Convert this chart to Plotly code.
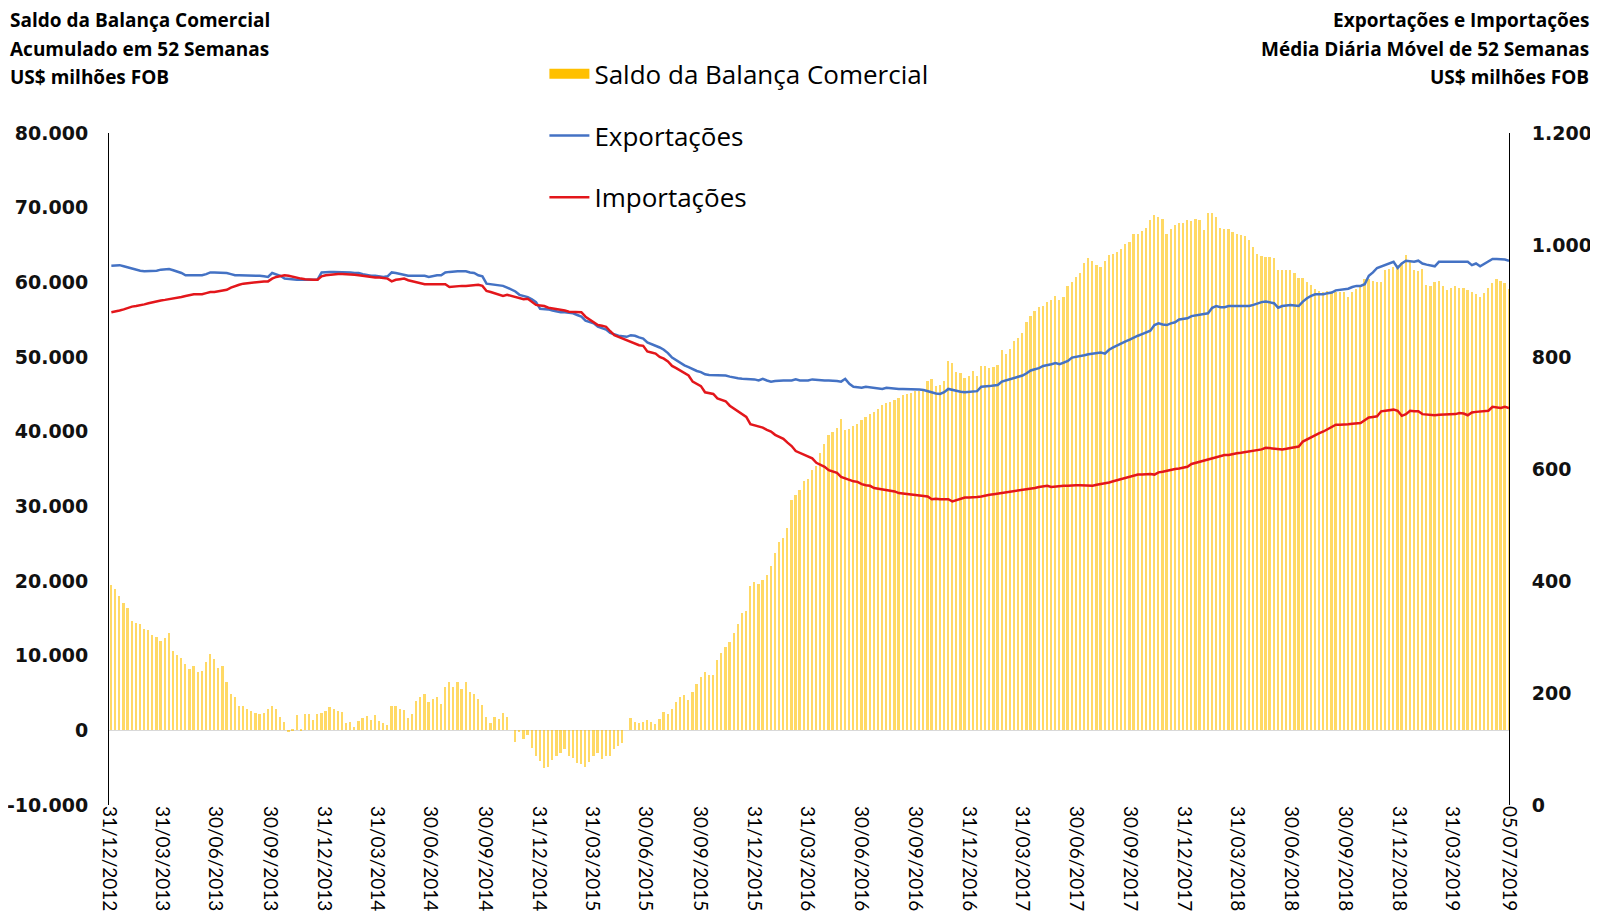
import pandas as pd
import plotly.graph_objects as go

# ---------------- data (weekly, last week ending 05/07/2019) ----------------
last_week = "2019-07-05"
n_weeks = 340

saldo = [
    19400, 18950, 17980, 17000, 16400, 14600, 14400, 14300, 13600, 13400,
    12800, 12500, 11900, 12400, 13100, 10600, 10100, 9700, 8900, 8200,
    8600, 7800, 7900, 9100, 10200, 9600, 8300, 8600, 6500, 4900,
    4500, 3300, 3200, 2800, 2600, 2300, 2200, 2300, 2800, 3200,
    2800, 1800, 1100, -100, 150, 2100, 150, 2200, 2200, 1400,
    2200, 2300, 2600, 3100, 2800, 2600, 2400, 1000, 1100, 400,
    1300, 1700, 1900, 1400, 2100, 1300, 1000, 700, 3300, 3200,
    2800, 2700, 1600, 2200, 3900, 4400, 4800, 3800, 4200, 4500,
    3500, 5800, 6500, 5800, 6500, 5600, 6500, 5200, 4900, 4200,
    3400, 1800, 1000, 1800, 1500, 2300, 1800, 0, -1500, -100,
    -1200, -600, -2300, -3500, -4100, -5000, -4900, -4000, -3500, -3000,
    -2500, -3400, -3700, -4400, -4500, -4900, -4200, -3500, -3000, -3900,
    -3500, -3400, -2500, -2100, -1700, 0, 1600, 1100, 1000, 1100,
    1400, 1100, 900, 1500, 2500, 2200, 2900, 3800, 4500, 4700,
    4000, 5200, 6200, 7200, 7800, 7400, 7400, 9400, 10400, 11200,
    11800, 13000, 14200, 15700, 16000, 19300, 19800, 19600, 20200, 20800,
    22000, 23700, 25200, 25700, 27100, 30800, 31500, 32200, 33400, 33700,
    34900, 35400, 37100, 38300, 39500, 40000, 40500, 41700, 40200, 40300,
    40700, 41000, 41500, 41900, 42400, 42700, 43100, 43600, 43900, 44000,
    44200, 44500, 44900, 45100, 45200, 45400, 45500, 45600, 46800, 47100,
    46100, 46300, 46800, 49400, 49200, 48000, 47900, 47200, 47500, 48100,
    47500, 48800, 48800, 48500, 48700, 48900, 50900, 50400, 51100, 52100,
    52600, 53200, 54700, 55500, 56200, 56700, 56800, 57400, 57700, 58200,
    57700, 58000, 59500, 60100, 60700, 61200, 62600, 63300, 62800, 62300,
    62100, 62800, 63600, 63800, 64000, 64500, 65100, 65400, 66500, 66500,
    66900, 67300, 68300, 69000, 68800, 68500, 66500, 67200, 67700, 67900,
    68000, 68300, 68200, 68500, 68300, 67000, 69300, 69300, 68800, 67300,
    67200, 67100, 66800, 66500, 66400, 66200, 65700, 64700, 63800, 63500,
    63400, 63400, 63300, 61600, 61700, 61700, 61700, 61300, 60600, 60600,
    60000, 59700, 59100, 58800, 58700, 58800, 58600, 58700, 58700, 58700,
    58100, 58700, 59100, 59500, 60400, 60500, 60200, 60100, 60000, 61700,
    61800, 62000, 62300, 62600, 63600, 62900, 61700, 61500, 61800, 59700,
    59500, 60000, 60200, 59500, 59000, 59200, 59500, 59200, 59200, 59000,
    58700, 58400, 58100, 58600, 59200, 59900, 60500, 60200, 59900, 59100,
]

exportacoes = [
    963, 964, 964, 962, 960, 957, 955, 954, 953, 953,
    953, 954, 956, 957, 957, 955, 953, 950, 946, 946,
    946, 946, 946, 948, 951, 951, 951, 950, 950, 948,
    946, 946, 946, 946, 946, 945, 945, 944, 943, 950,
    947, 945, 940, 939, 938, 938, 938, 938, 938, 938,
    938, 951, 952, 952, 952, 952, 952, 951, 951, 950,
    950, 948, 946, 945, 945, 944, 943, 944, 951, 950,
    948, 947, 945, 945, 945, 946, 945, 943, 945, 946,
    946, 951, 952, 953, 953, 953, 953, 951, 950, 946,
    944, 931, 930, 929, 928, 927, 924, 920, 917, 911,
    909, 907, 903, 898, 886, 886, 885, 883, 881, 880,
    880, 879, 878, 875, 872, 865, 862, 860, 854, 851,
    849, 843, 840, 838, 837, 836, 839, 838, 835, 833,
    826, 823, 821, 817, 813, 807, 799, 794, 789, 785,
    782, 778, 775, 773, 769, 768, 768, 767, 767, 767,
    765, 763, 762, 761, 761, 760, 760, 758, 761, 758,
    756, 757, 758, 758, 758, 758, 760, 758, 758, 758,
    760, 759, 758, 758, 758, 758, 757, 756, 761, 752,
    747, 746, 745, 747, 746, 745, 744, 743, 745, 744,
    743, 743, 743, 743, 743, 742, 742, 741, 739, 736,
    735, 734, 737, 743, 741, 739, 738, 737, 738, 738,
    739, 747, 747, 748, 749, 750, 756, 758, 761, 763,
    765, 767, 771, 776, 778, 780, 784, 785, 787, 789,
    787, 790, 793, 799, 800, 802, 803, 805, 806, 807,
    808, 806, 813, 817, 821, 825, 828, 831, 835, 838,
    841, 844, 847, 857, 860, 858, 857, 860, 862, 867,
    868, 869, 873, 874, 876, 877, 878, 888, 891, 889,
    889, 891, 891, 891, 891, 891, 891, 893, 896, 898,
    899, 898, 896, 888, 891, 892, 893, 892, 891, 899,
    905, 909, 912, 912, 912, 914, 915, 919, 920, 921,
    922, 925, 927, 927, 930, 945, 951, 959, 962, 964,
    967, 970, 959, 967, 972, 971, 970, 972, 967, 965,
    964, 962, 970, 970, 970, 969, 969, 970, 970, 970,
    964, 967, 962, 966, 970, 975, 975, 975, 974, 972,
]

importacoes = [
    880, 881, 883, 885, 888, 890, 891, 892, 894, 896,
    898, 900, 901, 902, 903, 904, 905, 907, 909, 911,
    912, 912, 912, 914, 916, 916, 917, 918, 920, 924,
    927, 929, 931, 932, 933, 934, 935, 935, 935, 940,
    943, 945, 946, 945, 943, 942, 940, 939, 938, 938,
    938, 944, 946, 947, 948, 948, 948, 948, 948, 947,
    946, 945, 943, 942, 942, 942, 941, 940, 935, 938,
    939, 940, 937, 935, 933, 931, 930, 930, 930, 930,
    930, 930, 925, 926, 927, 927, 927, 928, 928, 929,
    927, 918, 916, 914, 912, 909, 911, 909, 907, 905,
    903, 904, 898, 893, 892, 891, 888, 887, 885, 884,
    883, 881, 881, 880, 880, 872, 867, 862, 857, 856,
    854, 846, 839, 836, 833, 829, 826, 823, 821, 820,
    810, 808, 806, 800, 797, 792, 784, 780, 776, 771,
    767, 756, 752, 748, 737, 736, 734, 726, 724, 721,
    713, 708, 703, 698, 693, 680, 678, 676, 674, 670,
    667, 661, 657, 654, 647, 641, 632, 629, 626, 622,
    619, 611, 607, 604, 598, 595, 593, 586, 583, 580,
    578, 577, 573, 571, 570, 566, 565, 564, 563, 562,
    560, 557, 556, 555, 555, 554, 553, 552, 551, 546,
    547, 546, 546, 546, 542, 544, 546, 549, 549, 549,
    550, 551, 553, 554, 555, 556, 557, 559, 559, 560,
    562, 563, 564, 565, 566, 568, 569, 570, 568, 569,
    570, 570, 570, 571, 571, 571, 571, 571, 570, 572,
    573, 575, 576, 578, 580, 581, 584, 586, 588, 590,
    590, 591, 591, 590, 594, 595, 597, 599, 600, 601,
    603, 604, 609, 611, 612, 614, 616, 618, 620, 623,
    625, 625, 627, 628, 629, 630, 631, 632, 633, 635,
    638, 637, 636, 635, 635, 636, 637, 638, 640, 649,
    653, 657, 661, 664, 667, 671, 675, 679, 679, 679,
    680, 681, 681, 682, 687, 692, 693, 694, 703, 704,
    705, 706, 704, 695, 698, 704, 703, 703, 698, 697,
    696, 696, 697, 697, 698, 698, 698, 700, 699, 696,
    701, 702, 703, 703, 704, 711, 710, 709, 711, 709,
]

tick_labels = [
    "31/12/2012", "31/03/2013", "30/06/2013", "30/09/2013",
    "31/12/2013", "31/03/2014", "30/06/2014", "30/09/2014",
    "31/12/2014", "31/03/2015", "30/06/2015", "30/09/2015",
    "31/12/2015", "31/03/2016", "30/06/2016", "30/09/2016",
    "31/12/2016", "31/03/2017", "30/06/2017", "30/09/2017",
    "31/12/2017", "31/03/2018", "30/06/2018", "30/09/2018",
    "31/12/2018", "31/03/2019", "05/07/2019",
]

left_tick_vals = [-10000, 0, 10000, 20000, 30000, 40000, 50000, 60000, 70000, 80000]
left_tick_text = ["-10.000", "0", "10.000", "20.000", "30.000", "40.000",
                  "50.000", "60.000", "70.000", "80.000"]

# ---------------- figure ----------------
dates = pd.date_range(end=last_week, periods=n_weeks, freq="7D")
tick_vals = pd.to_datetime(tick_labels, format="%d/%m/%Y")

GOLD = "#FFC000"
BLUE = "#4472C4"
RED = "#E3161B"
TXT = "#111111"

fig = go.Figure()
fig.add_trace(go.Bar(
    x=dates, y=saldo, name="Saldo da Balança Comercial",
    marker=dict(color=GOLD, line=dict(width=0)), opacity=0.6,
    width=3 * 86400000, showlegend=False, yaxis="y",
))
# legend swatch for the bars (wide block like the original)
fig.add_trace(go.Scatter(
    x=[None], y=[None], mode="lines", name="Saldo da Balança Comercial",
    line=dict(color=GOLD, width=14), legendgroup="a", yaxis="y",
))
fig.add_trace(go.Scatter(
    x=dates, y=exportacoes, mode="lines", name="Exportações",
    line=dict(color=BLUE, width=2.5), legendgroup="b", yaxis="y2",
))
fig.add_trace(go.Scatter(
    x=dates, y=importacoes, mode="lines", name="Importações",
    line=dict(color=RED, width=2.5), legendgroup="c", yaxis="y2",
))

tick_font = dict(family="DejaVu Sans", size=19, color=TXT, weight="bold")

fig.update_layout(
    width=1590, height=910, autosize=False,
    margin=dict(l=101, r=89, t=125, b=113, pad=0),
    paper_bgcolor="white", plot_bgcolor="white",
    separators=",.",
    bargap=0,
    showlegend=True,
    legend=dict(
        x=0.311, y=1.123, xanchor="left", yanchor="top",
        xref="paper", yref="paper",
        font=dict(family="Open Sans", size=26, color="#000000"),
        traceorder="grouped", tracegroupgap=25,
        itemwidth=40, bgcolor="rgba(0,0,0,0)",
    ),
    xaxis=dict(
        type="date", range=["2012-12-31", "2019-07-05"],
        tickmode="array", tickvals=tick_vals, ticktext=tick_labels,
        tickangle=90, tickfont=dict(family="Lato", size=19, color="#000000"),
        showgrid=False, zeroline=False, showline=False, ticks="",
        automargin=False,
    ),
    yaxis=dict(
        range=[-10000, 80000],
        tickmode="array", tickvals=left_tick_vals, ticktext=left_tick_text,
        tickfont=tick_font,
        showgrid=False, zeroline=True, zerolinecolor="#D9D9D9", zerolinewidth=1,
        showline=True, linecolor="#000000", linewidth=1, ticks="",
        ticklabelstandoff=16, automargin=False,
    ),
    yaxis2=dict(
        range=[0, 1200], dtick=200, tick0=0, overlaying="y", side="right",
        tickformat=",.0f", tickfont=tick_font,
        showgrid=False, zeroline=False,
        showline=True, linecolor="#000000", linewidth=1, ticks="",
        ticklabelstandoff=18, automargin=False,
    ),
)

ann_font = dict(family="Open Sans", size=19, color="#000000", weight="bold")
left_lines = ["Saldo da Balança Comercial", "Acumulado em 52 Semanas", "US$ milhões FOB"]
right_lines = ["Exportações e Importações", "Média Diária Móvel de 52 Semanas", "US$ milhões FOB"]
ys = [1.1675, 1.1257, 1.0834]
for txt, yy in zip(left_lines, ys):
    fig.add_annotation(text=txt, x=-0.0725, y=yy, xref="paper", yref="paper",
                       xanchor="left", yanchor="middle", showarrow=False, font=ann_font)
for txt, yy in zip(right_lines, ys):
    fig.add_annotation(text=txt, x=1.0585, y=yy, xref="paper", yref="paper",
                       xanchor="right", yanchor="middle", showarrow=False, font=ann_font)

fig.write_html("out.html")
